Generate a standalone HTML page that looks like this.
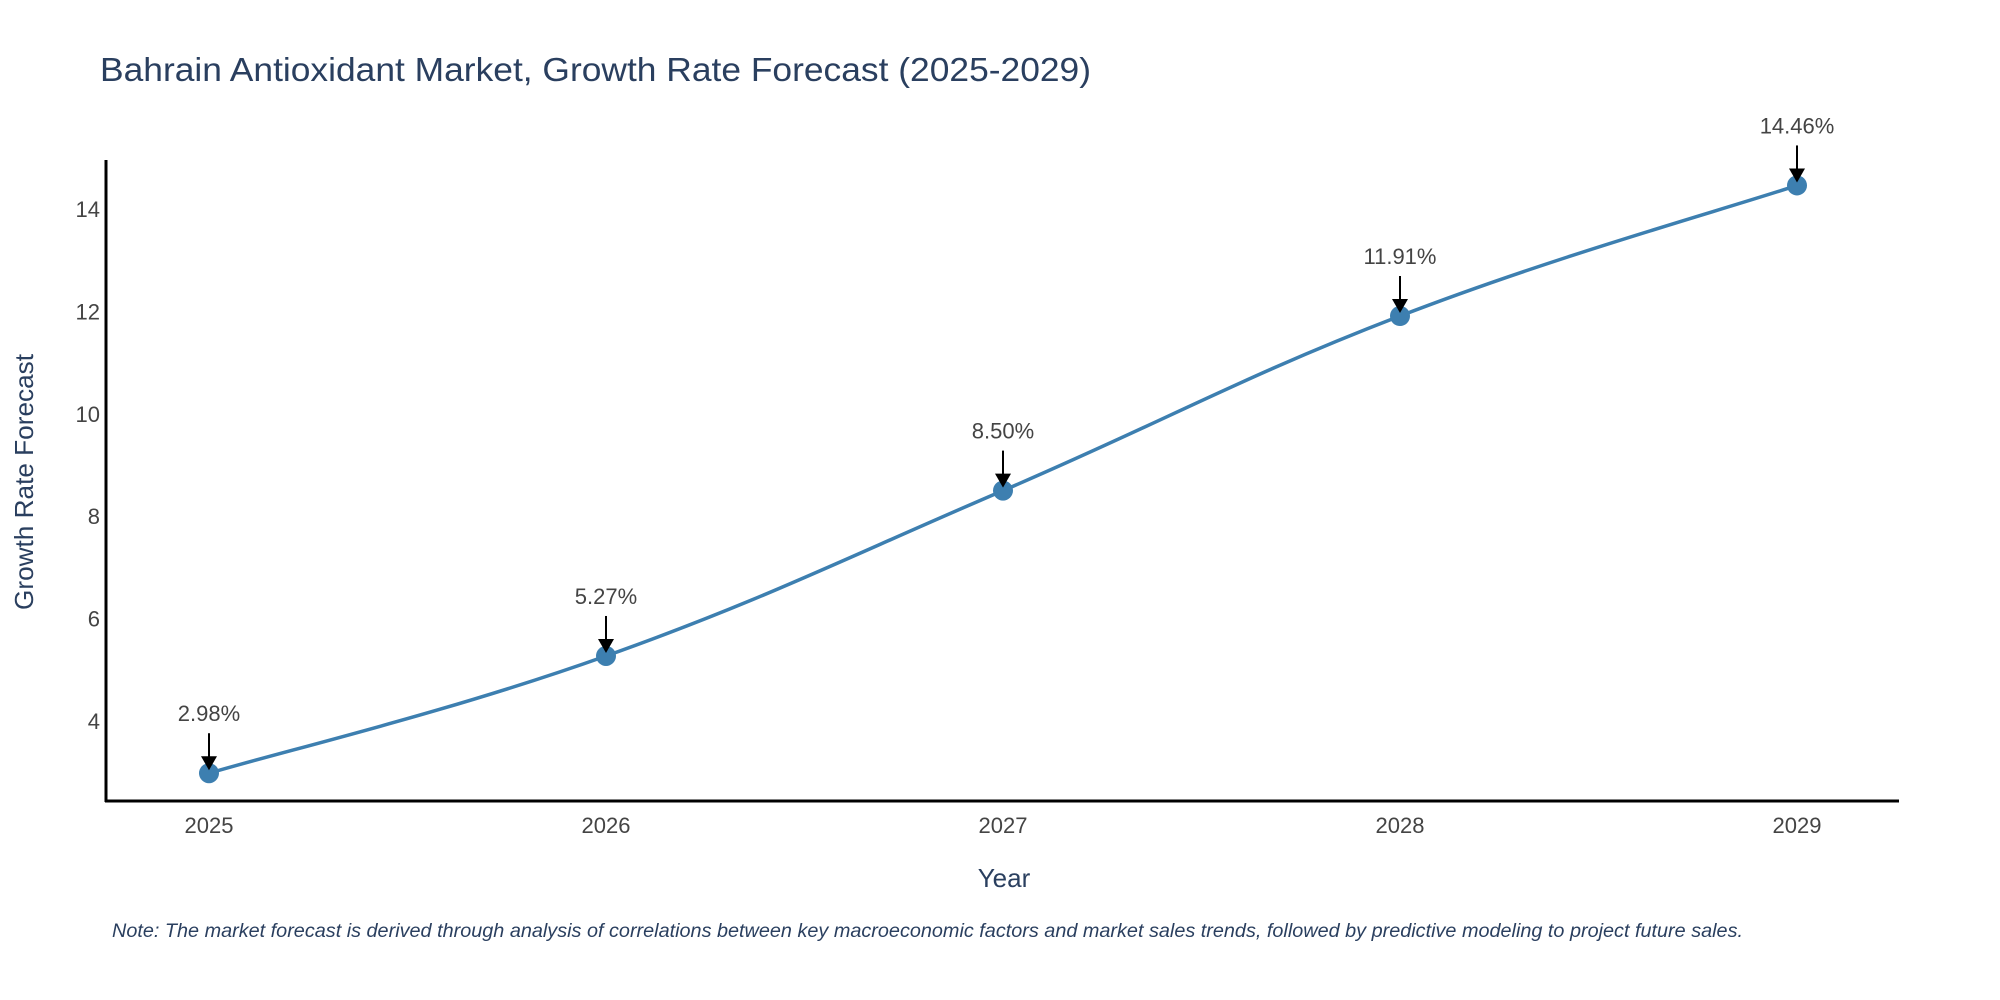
<!DOCTYPE html>
<html><head><meta charset="utf-8"><style>
body{margin:0;background:#fff;}
svg{display:block;font-family:"Liberation Sans",sans-serif;}
</style></head><body>
<svg id="chart" width="2000" height="1000" viewBox="0 0 2000 1000">
<text x="100" y="81" font-size="33" fill="#2a3f5f" textLength="991" lengthAdjust="spacingAndGlyphs">Bahrain Antioxidant Market, Growth Rate Forecast (2025-2029)</text>
<g id="yticks"></g>
<g id="xticks"></g>
<line x1="106" y1="160" x2="106" y2="802" stroke="#000" stroke-width="3"/>
<line x1="105" y1="801" x2="1899" y2="801" stroke="#000" stroke-width="3"/>
<text transform="translate(33,482) rotate(-90)" text-anchor="middle" font-size="26" fill="#2a3f5f" textLength="256" lengthAdjust="spacingAndGlyphs">Growth Rate Forecast</text>
<text x="1004" y="887" text-anchor="middle" font-size="26" fill="#2a3f5f">Year</text>
<g id="series"></g>
<text x="112" y="937" font-size="19" font-style="italic" fill="#2a3f5f" textLength="1631" lengthAdjust="spacingAndGlyphs">Note: The market forecast is derived through analysis of correlations between key macroeconomic factors and market sales trends, followed by predictive modeling to project future sales.</text>
</svg>
<script>
const years = [2025, 2026, 2027, 2028, 2029];
const growth = [2.98, 5.27, 8.50, 11.91, 14.46];
const labels = ["2.98%", "5.27%", "8.50%", "11.91%", "14.46%"];
const yTicks = [4, 6, 8, 10, 12, 14];

const NS = "http://www.w3.org/2000/svg";
function xs(v){ return 209 + (v - 2025) * 397; }
function ys(v){ return 721 - (v - 4) * 51.2; }
function mk(tag, attrs, parent){
  const e = document.createElementNS(NS, tag);
  for (const k in attrs) e.setAttribute(k, attrs[k]);
  parent.appendChild(e); return e;
}
const yg = document.getElementById('yticks');
yTicks.forEach(t => {
  const e = mk('text', {x: 100, y: ys(t) + 8, 'text-anchor': 'end', 'font-size': 22, fill: '#444'}, yg);
  
  
  e.textContent = t;
});
const xg = document.getElementById('xticks');
years.forEach(y => {
  const e = mk('text', {x: xs(y), y: 833, 'text-anchor': 'middle', 'font-size': 22, fill: '#444'}, xg);
  
  
  e.textContent = y;
});
const sg = document.getElementById('series');
const pts = years.map((y, i) => [xs(y), ys(growth[i])]);
let d = 'M' + pts[0][0] + ',' + pts[0][1];
const s = 0.2;
for (let i = 0; i < pts.length - 1; i++) {
  const p0 = pts[Math.max(0, i - 1)], p1 = pts[i], p2 = pts[i + 1], p3 = pts[Math.min(pts.length - 1, i + 2)];
  const c1 = [p1[0] + (p2[0] - p0[0]) * s, p1[1] + (p2[1] - p0[1]) * s];
  const c2 = [p2[0] - (p3[0] - p1[0]) * s, p2[1] - (p3[1] - p1[1]) * s];
  d += ' C' + c1 + ' ' + c2 + ' ' + p2;
}
const line = mk('path', {d: d, fill: 'none', stroke: '#3d7fb0', 'stroke-width': 3.5}, sg);


pts.forEach((p, i) => {
  const c = mk('circle', {cx: p[0], cy: p[1], r: 10, fill: '#3d7fb0'}, sg);
  
  
  const a = mk('line', {x1: p[0], y1: p[1] - 40, x2: p[0], y2: p[1] - 16, stroke: '#000', 'stroke-width': 2}, sg);
  
  
  const h = mk('polygon', {points: (p[0]-8)+','+(p[1]-17)+' '+(p[0]+8)+','+(p[1]-17)+' '+p[0]+','+(p[1]-3)}, sg);
  
  
  const t = mk('text', {x: p[0], y: p[1] - 52, 'text-anchor': 'middle', 'font-size': 22, fill: '#444'}, sg);
  
  
  t.textContent = labels[i];
});
</script>
</body></html>
